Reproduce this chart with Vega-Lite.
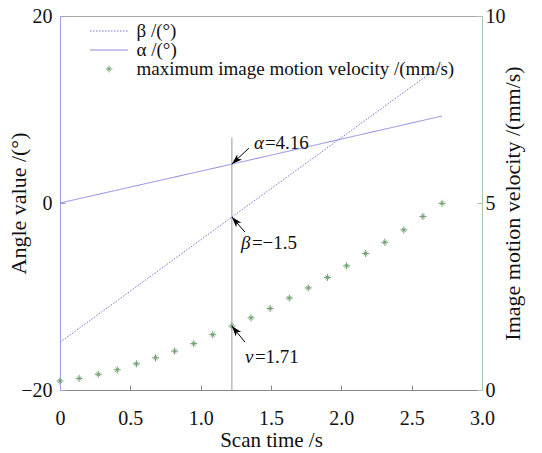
{
  "$schema": "https://vega.github.io/schema/vega-lite/v6.json",
  "width": 422,
  "height": 374,
  "autosize": "none",
  "padding": {"left": 60, "top": 16, "right": 60, "bottom": 63},
  "background": "white",
  "config": {
    "font": "Liberation Serif",
    "view": {"stroke": "#a8a8a8", "strokeWidth": 1},
    "axis": {
      "labelFont": "Liberation Serif", "labelFontSize": 20, "labelColor": "#111",
      "titleFont": "Liberation Serif", "titleFontSize": 22, "titleFontWeight": "normal", "titleColor": "#111",
      "grid": false, "tickSize": -5, "tickColor": "#888", "domainColor": "#999", "labelFlush": false, "labelOverlap": false
    }
  },
  "datasets": {
    "angles": [
      {"series": "β /(°)", "t": 0, "value": -14.9},
      {"series": "β /(°)", "t": 1.222, "value": -1.5},
      {"series": "β /(°)", "t": 2.716, "value": 14.8},
      {"series": "α /(°)", "t": 0, "value": 0},
      {"series": "α /(°)", "t": 1.222, "value": 4.16},
      {"series": "α /(°)", "t": 2.716, "value": 9.3}
    ],
    "vline": [{"t": 1.222, "value": -20, "value2": 7}],
    "angleNotes": [
      {"sym": "α", "num": "=4.16", "t": 1.222, "value": 4.16},
      {"sym": "β", "num": "=−1.5", "t": 1.222, "value": -1.5}
    ],
    "velocity": [
      {"t": 0, "v": 0.24}, {"t": 0.136, "v": 0.31}, {"t": 0.272, "v": 0.42}, {"t": 0.407, "v": 0.54},
      {"t": 0.543, "v": 0.70}, {"t": 0.679, "v": 0.86}, {"t": 0.815, "v": 1.04}, {"t": 0.951, "v": 1.24},
      {"t": 1.086, "v": 1.48}, {"t": 1.222, "v": 1.71}, {"t": 1.358, "v": 1.93}, {"t": 1.494, "v": 2.18},
      {"t": 1.630, "v": 2.46}, {"t": 1.765, "v": 2.73}, {"t": 1.901, "v": 3.01}, {"t": 2.037, "v": 3.32},
      {"t": 2.173, "v": 3.65}, {"t": 2.309, "v": 3.95}, {"t": 2.444, "v": 4.28}, {"t": 2.580, "v": 4.64},
      {"t": 2.716, "v": 4.99}
    ],
    "velocityNotes": [{"sym": "v", "num": "=1.71", "t": 1.222, "v": 1.71}]
  },
  "encoding": {
    "x": {
      "field": "t", "type": "quantitative", "title": "Scan time /s",
      "scale": {"domain": [0, 3], "nice": false, "zero": false},
      "axis": {
        "values": [0, 0.5, 1, 1.5, 2, 2.5, 3],
        "labelExpr": "datum.value == 0 ? '0' : format(datum.value, '.1f')",
        "labelPadding": 23, "titlePadding": 1, "titleFontSize": 21, "domainColor": "#888"
      }
    }
  },
  "layer": [
    {
      "encoding": {
        "y": {
          "field": "value", "type": "quantitative", "title": "Angle value /(°)",
          "scale": {"domain": [-20, 20], "nice": false, "zero": false},
          "axis": {"orient": "left", "values": [-20, 0, 20], "labelPadding": 13, "titlePadding": -10, "domainColor": "#9aa0e0", "tickColor": "#9aa0e0"}
        }
      },
      "layer": [
        {
          "data": {"name": "angles"},
          "mark": {"type": "line", "strokeWidth": 1},
          "encoding": {
            "color": {
              "field": "series", "type": "nominal",
              "scale": {"domain": ["β /(°)", "α /(°)", "maximum image motion velocity /(mm/s)"], "range": ["#7474d4", "#8a8ae0", "#6e9e6e"]},
              "legend": {
                "title": null, "orient": "none", "legendX": 29.5, "legendY": 6,
                "labelFont": "Liberation Serif", "labelFontSize": 19, "labelColor": "#111", "labelLimit": 500, "labelOffset": 8,
                "symbolSize": 1444, "symbolStrokeWidth": 1, "symbolType": "stroke", "clipHeight": 18, "rowPadding": 0, "padding": 0,
                "encode": {
                  "symbols": {
                    "update": {
                      "shape": {"signal": "datum.value == 'maximum image motion velocity /(mm/s)' ? 'M-0.18,0L0.18,0M0,-0.18L0,0.18M-0.1,-0.1L0.1,0.1M-0.1,0.1L0.1,-0.1' : 'stroke'"},
                      "strokeDash": {"signal": "datum.value == 'β /(°)' ? [1.5, 1.5] : [1, 0]"}
                    }
                  }
                }
              }
            },
            "strokeDash": {
              "field": "series", "type": "nominal",
              "scale": {"domain": ["β /(°)", "α /(°)"], "range": [[1.5, 1.5], [1, 0]]},
              "legend": null
            }
          }
        },
        {
          "data": {"name": "vline"},
          "mark": {"type": "rule", "color": "#9a9a9a", "strokeWidth": 1},
          "encoding": {"y2": {"field": "value2"}}
        },
        {
          "data": {"name": "angleNotes"},
          "transform": [{"filter": "datum.sym == 'α'"}],
          "layer": [
            {"mark": {"type": "rule", "color": "black", "strokeWidth": 1, "x2Offset": 17, "y2Offset": -16}, "encoding": {"x2": {"field": "t"}, "y2": {"field": "value"}}},
            {"mark": {"type": "point", "shape": "M0,0L0.5,1.5L0,1.1L-0.5,1.5Z", "size": 196, "filled": true, "color": "black", "opacity": 1, "angle": 227}, "encoding": {}},
            {"mark": {"type": "text", "align": "left", "baseline": "middle", "dx": 22, "dy": -21, "fontSize": 19, "fontStyle": "italic", "color": "#111"}, "encoding": {"text": {"field": "sym"}}},
            {"mark": {"type": "text", "align": "left", "baseline": "middle", "dx": 33, "dy": -21, "fontSize": 19, "color": "#111"}, "encoding": {"text": {"field": "num"}}}
          ]
        },
        {
          "data": {"name": "angleNotes"},
          "transform": [{"filter": "datum.sym == 'β'"}],
          "layer": [
            {"mark": {"type": "rule", "color": "black", "strokeWidth": 1, "x2Offset": 13, "y2Offset": 15}, "encoding": {"x2": {"field": "t"}, "y2": {"field": "value"}}},
            {"mark": {"type": "point", "shape": "M0,0L0.5,1.5L0,1.1L-0.5,1.5Z", "size": 196, "filled": true, "color": "black", "opacity": 1, "angle": 319}, "encoding": {}},
            {"mark": {"type": "text", "align": "left", "baseline": "middle", "dx": 9, "dy": 26, "fontSize": 19, "fontStyle": "italic", "color": "#111"}, "encoding": {"text": {"field": "sym"}}},
            {"mark": {"type": "text", "align": "left", "baseline": "middle", "dx": 20, "dy": 26, "fontSize": 19, "color": "#111"}, "encoding": {"text": {"field": "num"}}}
          ]
        }
      ]
    },
    {
      "encoding": {
        "y": {
          "field": "v", "type": "quantitative", "title": "Image motion velocity /(mm/s)",
          "scale": {"domain": [0, 10], "nice": false, "zero": false},
          "axis": {"orient": "right", "values": [0, 5, 10], "labelPadding": 8, "titlePadding": -3, "titleAngle": -90, "titleBaseline": "top", "domainColor": "#a8c8a8", "tickColor": "#a8c8a8"}
        }
      },
      "layer": [
        {
          "data": {"name": "velocity"},
          "mark": {"type": "point", "shape": "M-1,0L1,0M0,-1L0,1M-0.55,-0.55L0.55,0.55M-0.55,0.55L0.55,-0.55", "size": 49, "strokeWidth": 1, "filled": false, "opacity": 1},
          "encoding": {"color": {"datum": "maximum image motion velocity /(mm/s)", "type": "nominal"}}
        },
        {
          "data": {"name": "velocityNotes"},
          "layer": [
            {"mark": {"type": "rule", "color": "black", "strokeWidth": 1, "x2Offset": 13, "y2Offset": 16}, "encoding": {"x2": {"field": "t"}, "y2": {"field": "v"}}},
            {"mark": {"type": "point", "shape": "M0,0L0.5,1.5L0,1.1L-0.5,1.5Z", "size": 196, "filled": true, "color": "black", "opacity": 1, "angle": 321}, "encoding": {}},
            {"mark": {"type": "text", "align": "left", "baseline": "middle", "dx": 13, "dy": 31, "fontSize": 19, "fontStyle": "italic", "color": "#111"}, "encoding": {"text": {"field": "sym"}}},
            {"mark": {"type": "text", "align": "left", "baseline": "middle", "dx": 23, "dy": 31, "fontSize": 19, "color": "#111"}, "encoding": {"text": {"field": "num"}}}
          ]
        }
      ]
    }
  ],
  "resolve": {"scale": {"y": "independent"}}
}
